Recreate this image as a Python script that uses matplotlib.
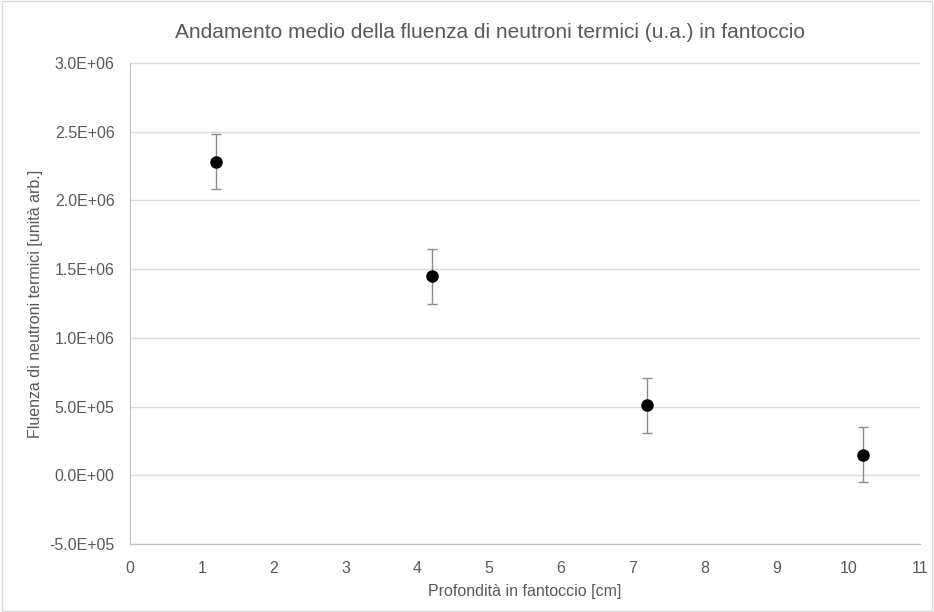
import matplotlib.pyplot as plt
from matplotlib.patches import Rectangle
from matplotlib.ticker import FuncFormatter

# data
depth = [1.2, 4.2, 7.2, 10.2]
fluence = [2.28e6, 1.45e6, 5.1e5, 1.5e5]
errors = [2.0e5, 2.0e5, 2.0e5, 2.0e5]

x_ticks = list(range(0, 12))
y_ticks = [-5e5, 0, 5e5, 1e6, 1.5e6, 2e6, 2.5e6, 3e6]

plt.rcParams['font.family'] = ['Liberation Sans Narrow', 'Liberation Sans', 'DejaVu Sans']
text_col = '#595959'

fig = plt.figure(figsize=(9.34, 6.12), dpi=100)
ax = fig.add_axes([130/934, 1 - 544/612, 790/934, 481/612])

# chart area border (Excel style)
fig.patches.append(Rectangle((0.002, 0.002), 0.996, 0.996, transform=fig.transFigure,
                             fill=False, edgecolor='#d9d9d9', linewidth=1))

ax.errorbar(depth, fluence, yerr=errors, fmt='o', color='black', markersize=8,
            ecolor='#8c8c8c', elinewidth=1, capsize=3.5, capthick=1, zorder=3)

ax.set_xlim(0, 11)
ax.set_ylim(-5e5, 3e6)
ax.set_xticks(x_ticks)
ax.set_yticks(y_ticks)
ax.yaxis.set_major_formatter(FuncFormatter(
    lambda v, p: '%.1fE%+03d' % (v / 10 ** (len(str(int(abs(v)))) - 1), len(str(int(abs(v)))) - 1)
    if v != 0 else '0.0E+00'))

ax.grid(axis='y', color='#d9d9d9', linewidth=1)
ax.set_axisbelow(True)
for s in ['top', 'right']:
    ax.spines[s].set_visible(False)
for s in ['left', 'bottom']:
    ax.spines[s].set_color('#bfbfbf')
ax.tick_params(length=0, colors=text_col, labelsize=11.5)
ax.tick_params(axis='y', pad=11)
ax.tick_params(axis='x', pad=12)

fig.text(490/934, 1 - 32/612, 'Andamento medio della fluenza di neutroni termici (u.a.) in fantoccio',
         fontsize=15, color=text_col, ha='center', va='center')
ax.set_xlabel('Profondità in fantoccio [cm]', fontsize=11.5, color=text_col)
ax.set_ylabel('Fluenza di neutroni termici [unità arb.]', fontsize=11.5, color=text_col)
ax.xaxis.set_label_coords(0.5, -0.098)
ax.yaxis.set_label_coords(-0.119, 0.5)
ax.xaxis.label.set_va('center')
ax.yaxis.label.set_va('center')

fig.savefig('out.png', dpi=100)
